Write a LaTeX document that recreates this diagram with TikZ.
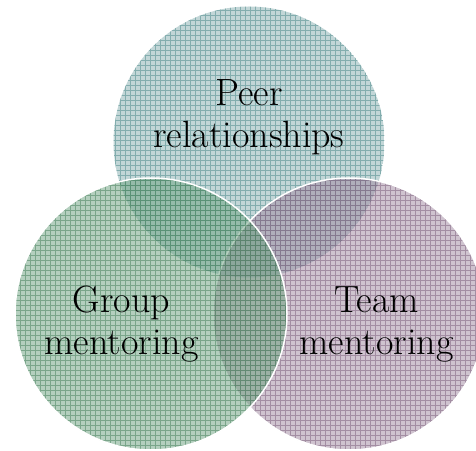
\documentclass[tikz,border=0pt]{standalone}
\definecolor{topbase}{RGB}{128,170,172}
\definecolor{topline}{RGB}{80,140,140}
\definecolor{leftbase}{RGB}{105,160,125}
\definecolor{leftline}{RGB}{65,125,88}
\definecolor{rightbase}{RGB}{160,135,160}
\definecolor{rightline}{RGB}{120,90,120}
\tikzset{
  lbl/.style={align=center, inner sep=0pt, font=\fontsize{38}{42}\selectfont},
  rim/.style={draw=white, line width=1.5pt}
}
\begin{document}
\begin{tikzpicture}[x=1pt,y=1pt]
\useasboundingbox (0,0) rectangle (476,450);
\clip (0,0) rectangle (476,450);
\coordinate (ct) at (249,308);
\coordinate (cl) at (151,136);
\coordinate (cr) at (349,136);
% top circle
\begin{scope}
  \clip (ct) circle (135.5);
  \fill[topbase, fill opacity=0.48] (ct) circle (135.5);
  \draw[topline, line width=0.7pt, opacity=0.55, step=5] (100,160) grid (400,450);
\end{scope}
% right circle
\begin{scope}
  \clip (cr) circle (136);
  \fill[rightbase, fill opacity=0.5] (cr) circle (136);
  \draw[rightline, line width=0.7pt, opacity=0.5, step=5] (200,0) grid (490,280);
\end{scope}
\draw[rim] (cr) circle (136);
% left circle
\begin{scope}
  \clip (cl) circle (136);
  \fill[leftbase, fill opacity=0.5] (cl) circle (136);
  \draw[leftline, line width=0.7pt, opacity=0.5, step=5] (0,0) grid (290,280);
\end{scope}
\draw[rim] (cl) circle (136);
% labels
\node[lbl] (peer) at (249,332.5) {Peer\\relationships};
\node[lbl] (group) at (121.5,125.5) {Group\\mentoring};
\node[lbl] (team) at (376.5,125.5) {Team\\mentoring};
\end{tikzpicture}
\end{document}
